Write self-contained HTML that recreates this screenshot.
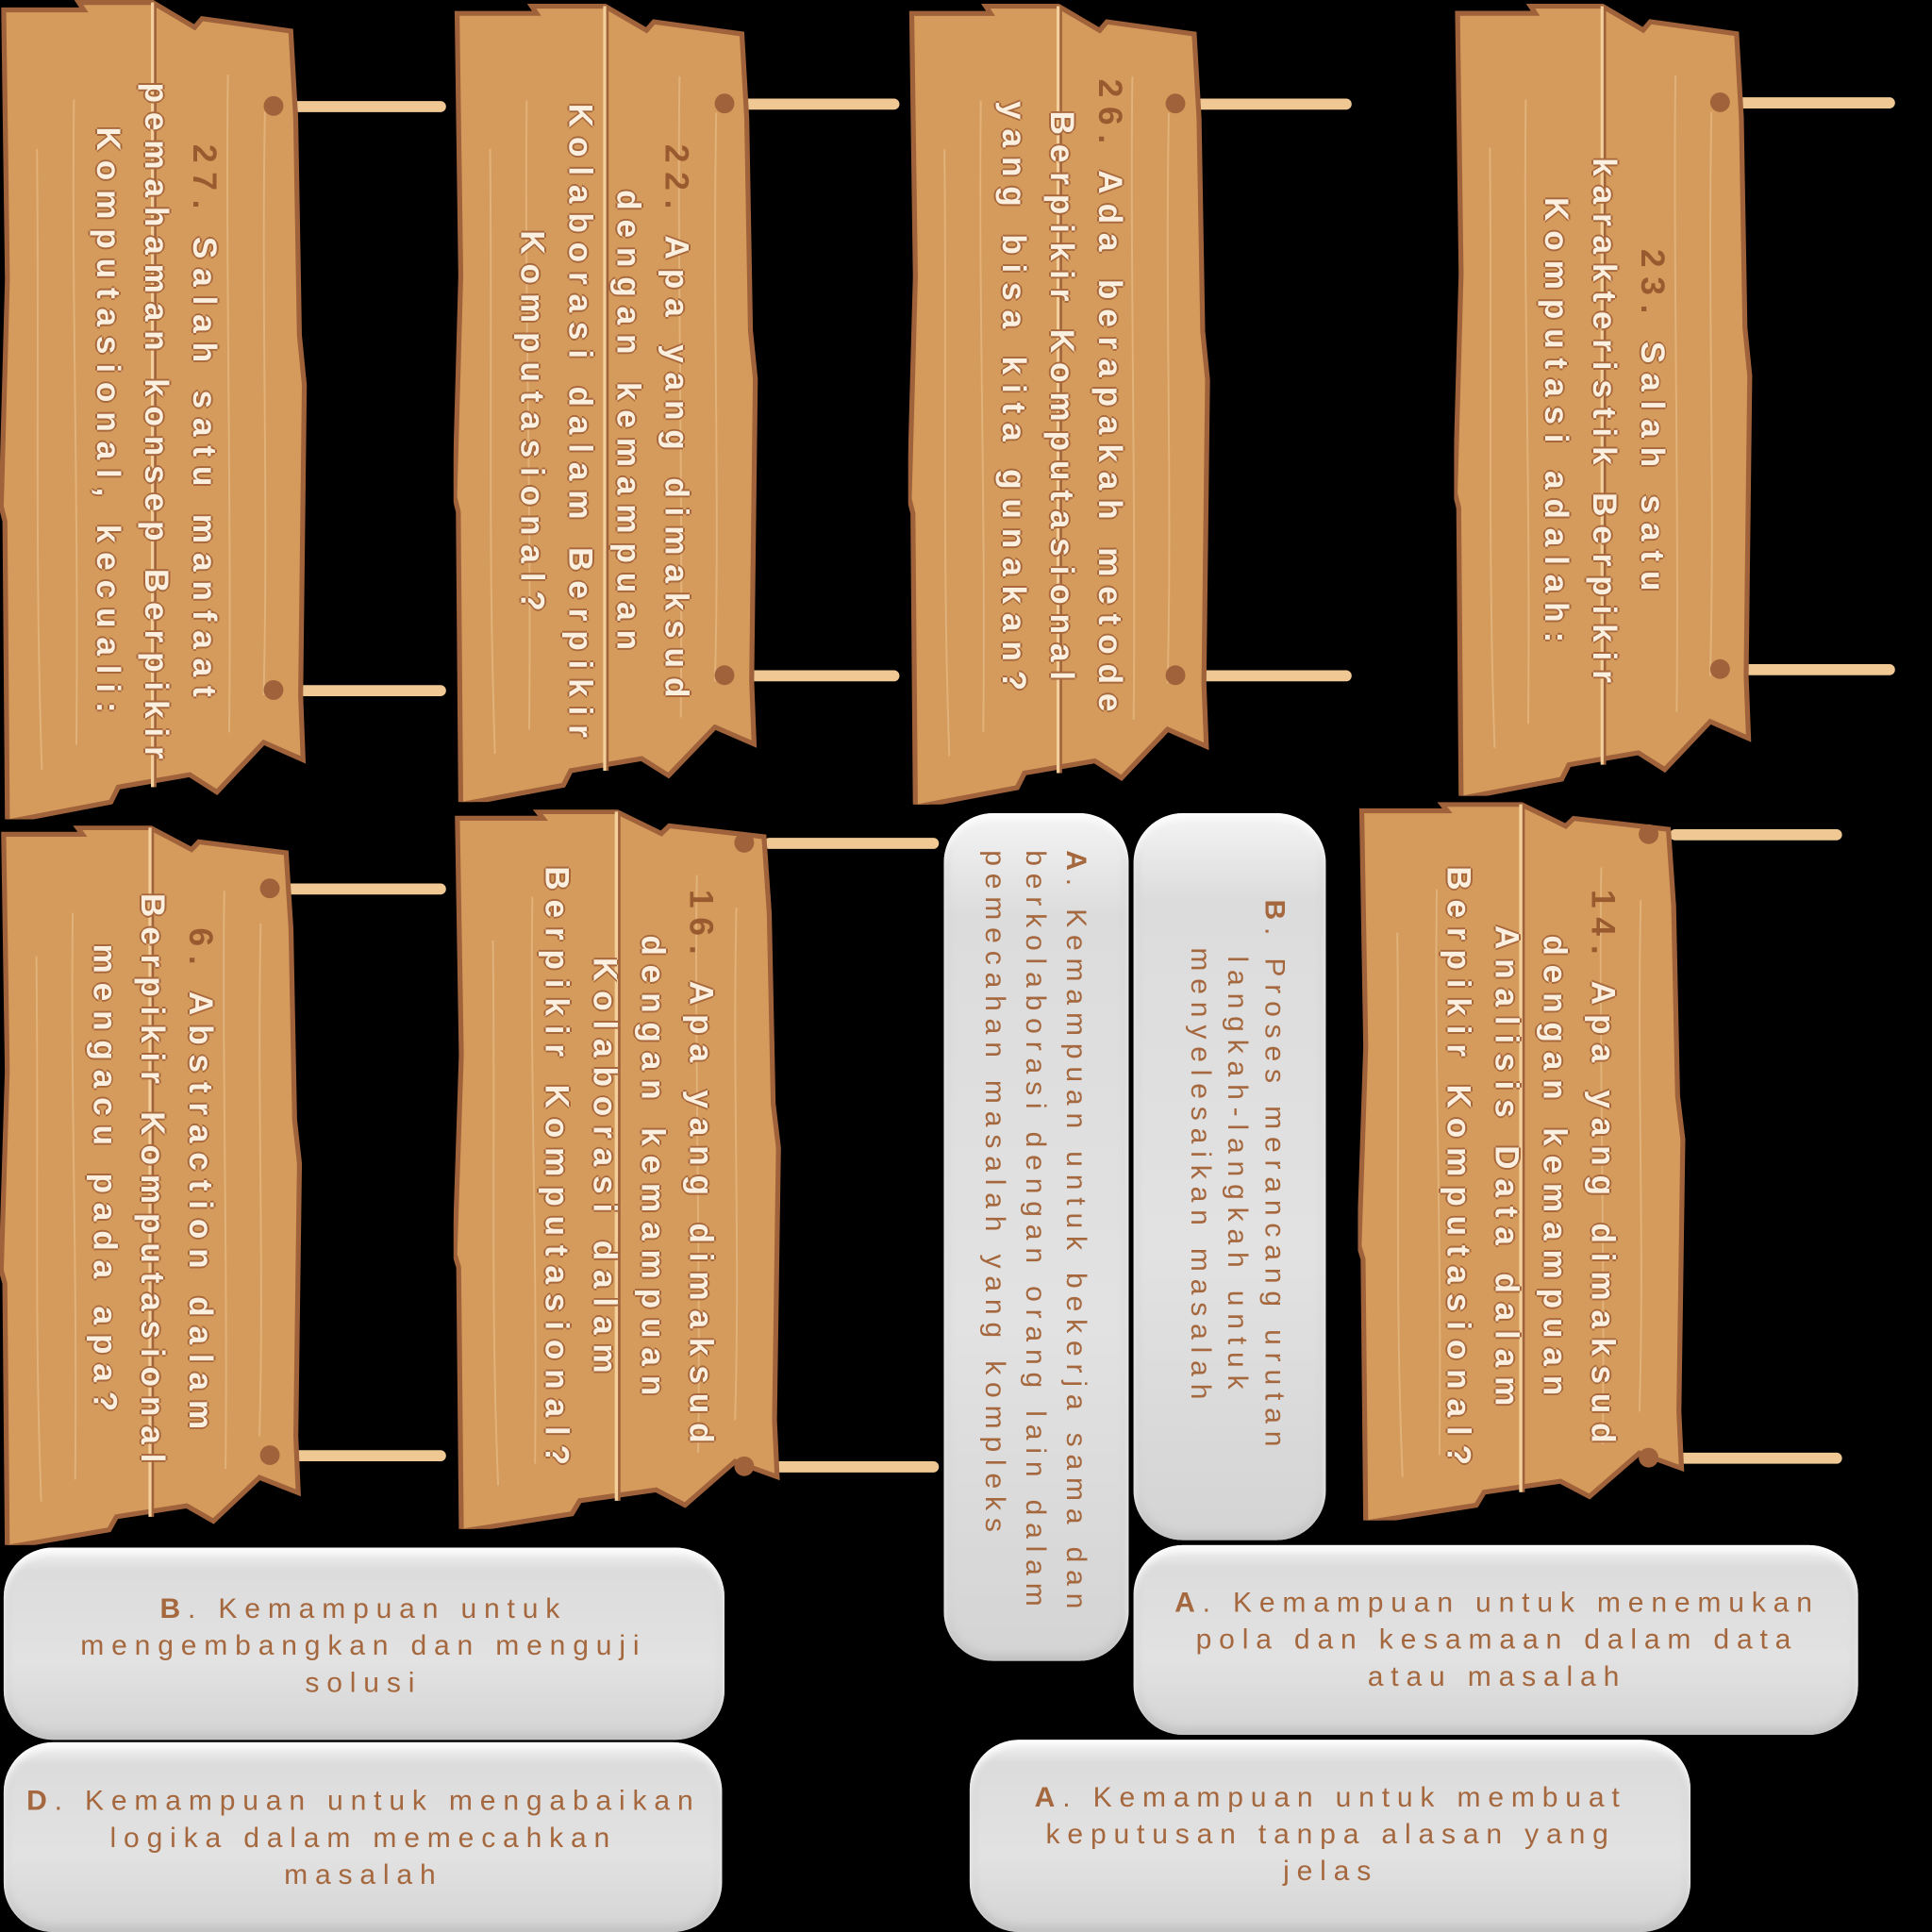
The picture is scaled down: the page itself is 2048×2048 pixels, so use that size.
<!DOCTYPE html>
<html><head><meta charset="utf-8"><style>
html,body{margin:0;padding:0;background:#000;width:2048px;height:2048px;overflow:hidden}
#s{position:absolute;left:0;top:0;width:1568px;height:1568px;transform:scale(1.30612);transform-origin:0 0}
.a{position:absolute}
.stick{position:absolute;height:9px;background:#f0c894;border-radius:5px}
.sign{position:absolute}
.sign svg{position:absolute;left:0;top:0;width:100%;height:100%}
.st{position:absolute;writing-mode:vertical-rl;font-family:"Liberation Sans",sans-serif;font-weight:bold;font-size:27px;letter-spacing:7.5px;line-height:39px;color:#fbf0e0;text-align:center;
text-shadow:-1.5px 0 #a8683c,1.5px 0 #a8683c,0 -1.5px #a8683c,0 1.5px #a8683c}
.st b{color:#9a5a30;text-shadow:none}
.pill{position:absolute;border-radius:40px;background:linear-gradient(180deg,#f4f4f4 0%,#dcdcdc 12%,#e2e2e2 60%,#d4d4d4 100%);box-shadow:inset 0 4px 6px #fff,inset 0 -4px 8px #bdbdbd}
.pt{position:absolute;font-family:"Liberation Sans",sans-serif;font-size:23px;letter-spacing:6px;line-height:30px;color:#a5683e;text-align:center}
.pt b{font-weight:bold}
.v{writing-mode:vertical-rl}
</style></head><body><div id="s">

<div class="stick" style="left:235px;top:82px;width:127px"></div>
<div class="stick" style="left:240px;top:556px;width:122px"></div>
<div class="stick" style="left:600px;top:80px;width:130px"></div>
<div class="stick" style="left:605px;top:544px;width:125px"></div>
<div class="stick" style="left:968px;top:80px;width:129px"></div>
<div class="stick" style="left:972px;top:544px;width:125px"></div>
<div class="stick" style="left:1410px;top:79px;width:128px"></div>
<div class="stick" style="left:1415px;top:539px;width:123px"></div>
<div class="stick" style="left:232px;top:717px;width:130px"></div>
<div class="stick" style="left:238px;top:1177px;width:124px"></div>
<div class="stick" style="left:620px;top:680px;width:142px"></div>
<div class="stick" style="left:625px;top:1186px;width:137px"></div>
<div class="stick" style="left:1355px;top:673px;width:140px"></div>
<div class="stick" style="left:1360px;top:1179px;width:135px"></div>

<svg width="0" height="0" style="position:absolute"><defs>
<symbol id="pl" viewBox="0 0 250 660" preserveAspectRatio="none">
<path d="M3,8 L68,8 L64,2 L124,2 L158,22 L164,15 L236,25 L240,95 L243,270 L247,310 L244,560 L246,612 L214,598 L176,638 L154,624 L96,634 L90,646 L6,662 L4,420 L1,408 L6,225 Z" fill="#d49b5c" stroke="#a0623a" stroke-width="4" vector-effect="non-scaling-stroke"/>
<path d="M60,80 C58,250 64,400 62,600 M185,60 C183,200 188,420 186,590 M30,120 C32,300 28,450 34,620 M215,90 C212,260 218,400 214,560" stroke="#e2b27a" stroke-width="1.5" fill="none" vector-effect="non-scaling-stroke"/>
<path d="M124,2 L124,634" stroke="#f3cf9c" stroke-width="3" vector-effect="non-scaling-stroke"/>
<path d="M126,2 L126,634" stroke="#a0623a" stroke-width="2" vector-effect="non-scaling-stroke"/>
</symbol></defs></svg>

<div class="sign" style="left:0;top:0;width:250px;height:665px"><svg><use href="#pl"/></svg></div>
<div class="a" style="left:214px;top:78px;width:16px;height:16px;border-radius:50%;background:#a0623a"></div>
<div class="a" style="left:214px;top:552px;width:16px;height:16px;border-radius:50%;background:#a0623a"></div>
<div class="st" style="left:60px;top:50px;height:590px;width:125px"><span><b>27.</b> Salah satu manfaat<br>pemahaman konsep Berpikir<br>Komputasional, kecuali:</span></div>

<div class="sign" style="left:368px;top:3px;width:248px;height:648px"><svg><use href="#pl"/></svg></div>
<div class="a" style="left:580px;top:76px;width:16px;height:16px;border-radius:50%;background:#a0623a"></div>
<div class="a" style="left:580px;top:540px;width:16px;height:16px;border-radius:50%;background:#a0623a"></div>
<div class="st" style="left:428px;top:60px;height:570px;width:140px"><span><b>22.</b> Apa yang dimaksud<br>dengan kemampuan<br>Kolaborasi dalam Berpikir<br>Komputasional?</span></div>

<div class="sign" style="left:737px;top:3px;width:246px;height:650px"><svg><use href="#pl"/></svg></div>
<div class="a" style="left:946px;top:76px;width:16px;height:16px;border-radius:50%;background:#a0623a"></div>
<div class="a" style="left:946px;top:540px;width:16px;height:16px;border-radius:50%;background:#a0623a"></div>
<div class="st" style="left:795px;top:45px;height:560px;width:125px"><span><b>26.</b> Ada berapakah metode<br>Berpikir Komputasional<br>yang bisa kita gunakan?</span></div>

<div class="sign" style="left:1180px;top:3px;width:243px;height:643px"><svg><use href="#pl"/></svg></div>
<div class="a" style="left:1388px;top:75px;width:16px;height:16px;border-radius:50%;background:#a0623a"></div>
<div class="a" style="left:1388px;top:535px;width:16px;height:16px;border-radius:50%;background:#a0623a"></div>
<div class="st" style="left:1240px;top:60px;height:570px;width:120px"><span><b>23.</b> Salah satu<br>karakteristik Berpikir<br>Komputasi adalah:</span></div>

<div class="sign" style="left:0;top:670px;width:246px;height:584px"><svg><use href="#pl"/></svg></div>
<div class="a" style="left:211px;top:713px;width:16px;height:16px;border-radius:50%;background:#a0623a"></div>
<div class="a" style="left:211px;top:1173px;width:16px;height:16px;border-radius:50%;background:#a0623a"></div>
<div class="st" style="left:62px;top:700px;height:520px;width:120px"><span><b>6.</b> Abstraction dalam<br>Berpikir Komputasional<br>mengacu pada apa?</span></div>

<div class="sign" style="left:368px;top:657px;width:267px;height:584px"><svg><use href="#pl"/></svg></div>
<div class="a" style="left:596px;top:676px;width:16px;height:16px;border-radius:50%;background:#a0623a"></div>
<div class="a" style="left:596px;top:1182px;width:16px;height:16px;border-radius:50%;background:#a0623a"></div>
<div class="st" style="left:428px;top:690px;height:520px;width:160px"><span><b>16.</b> Apa yang dimaksud<br>dengan kemampuan<br>Kolaborasi dalam<br>Berpikir Komputasional?</span></div>

<div class="sign" style="left:1102px;top:651px;width:267px;height:583px"><svg><use href="#pl"/></svg></div>
<div class="a" style="left:1330px;top:669px;width:16px;height:16px;border-radius:50%;background:#a0623a"></div>
<div class="a" style="left:1330px;top:1175px;width:16px;height:16px;border-radius:50%;background:#a0623a"></div>
<div class="st" style="left:1160px;top:690px;height:520px;width:160px"><span><b>14.</b> Apa yang dimaksud<br>dengan kemampuan<br>Analisis Data dalam<br>Berpikir Komputasional?</span></div>

<div class="pill" style="left:766px;top:660px;width:150px;height:688px"></div>
<div class="pt v" style="left:790px;top:690px;width:100px;height:630px;line-height:33px"><span style="display:block;text-align:left"><b>A</b>. Kemampuan untuk bekerja sama dan<br>berkolaborasi dengan orang lain dalam<br>pemecahan masalah yang kompleks</span></div>

<div class="pill" style="left:920px;top:660px;width:156px;height:590px"></div>
<div class="pt v" style="left:945px;top:690px;width:105px;height:530px"><span><b>B</b>. Proses merancang urutan<br>langkah-langkah untuk<br>menyelesaikan masalah</span></div>

<div class="pill" style="left:3px;top:1256px;width:585px;height:156px"></div>
<div class="pt" style="left:30px;top:1290px;width:530px"><b>B</b>. Kemampuan untuk<br>mengembangkan dan menguji<br>solusi</div>

<div class="pill" style="left:3px;top:1414px;width:583px;height:154px"></div>
<div class="pt" style="left:15px;top:1446px;width:560px"><b>D</b>. Kemampuan untuk mengabaikan<br>logika dalam memecahkan<br>masalah</div>

<div class="pill" style="left:920px;top:1254px;width:588px;height:154px"></div>
<div class="pt" style="left:945px;top:1285px;width:540px"><b>A</b>. Kemampuan untuk menemukan<br>pola dan kesamaan dalam data<br>atau masalah</div>

<div class="pill" style="left:787px;top:1412px;width:585px;height:156px"></div>
<div class="pt" style="left:820px;top:1443px;width:520px"><b>A</b>. Kemampuan untuk membuat<br>keputusan tanpa alasan yang<br>jelas</div>

</div></body></html>
